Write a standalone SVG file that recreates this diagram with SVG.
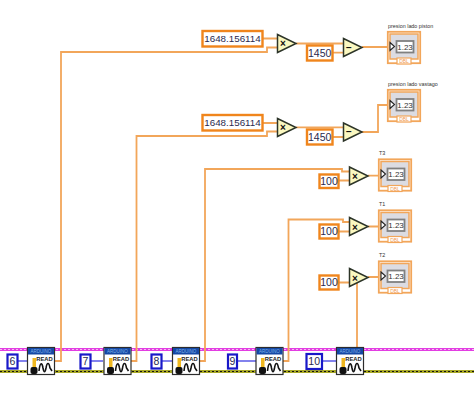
<svg xmlns="http://www.w3.org/2000/svg" width="474" height="407" viewBox="0 0 474 407">
<style>
text{font-family:"Liberation Sans",Arial,sans-serif}
.w{fill:none;stroke:#f2a65a;stroke-width:1.8}
.b{fill:none;stroke:#5a5ae8;stroke-width:1.6}
.c{fill:#fff;stroke:#f0851c;stroke-width:2.4}
.n{fill:#fff;stroke:#1818c8;stroke-width:2.2}
.ct{font-size:10.5px;fill:#2a2a50;text-anchor:middle}
.cl{font-size:9.8px;fill:#2a2a50;text-anchor:middle}
.tri{fill:#fbf8c0;stroke:#2c3428;stroke-width:1.5}
.op{font-size:10px;font-weight:bold;fill:#111;text-anchor:middle}
.lb{font-size:5.4px;fill:#333}
</style>
<defs>
<g id="ind">
<rect x="0.800" y="0.800" width="32.400" height="31.400" fill="#fff" stroke="#f2a65a" stroke-width="1.800"/>
<rect x="3" y="3" width="28" height="25" fill="#dcdce2" stroke="#f2a65a" stroke-width="1.500"/>
<rect x="9.500" y="10" width="17" height="11.500" fill="#fff" stroke="#808080" stroke-width="1.800"/>
<text x="18" y="18.800" font-size="8" fill="#333" text-anchor="middle">1.23</text>
<path d="M3 11.500 L7.500 15.500 L3 19.500 Z" fill="#fff" stroke="#222" stroke-width="1.100"/>
<rect x="10" y="27" width="14" height="6" fill="#fff" stroke="#f2a65a" stroke-width="1.200"/>
<text x="17" y="32.300" font-size="5" fill="#f09a50" text-anchor="middle">DBL</text>
</g>
<g id="rd">
<rect x="0.500" y="0.500" width="27" height="27" fill="#fff" stroke="#2c2c2c" stroke-width="1.200"/>
<rect x="1" y="1" width="26" height="6.500" fill="#1448a4"/>
<text x="14" y="6" font-size="4.500" fill="#7fb0e8" text-anchor="middle">ARDUINO</text>
<text x="17.500" y="14.300" font-size="5.800" font-weight="bold" fill="#222" text-anchor="middle">READ</text>
<rect x="5.500" y="11" width="3.500" height="10" fill="#f0b820"/>
<rect x="3.500" y="20" width="7" height="7" rx="2" fill="#111"/>
<path d="M12 24 C13 15 15 15 16 21 C17 26 18 26 19 21 C20 15 22 15 23 21 L25 24" fill="none" stroke="#111" stroke-width="1.600"/>
</g>
</defs>
<rect width="474" height="407" fill="#fff"/>
<g id="connectors">
<path d="M0 349.500H474" stroke="#e23ee2" stroke-width="3"/>
<path d="M0 349.500H474" stroke="#f9b8f4" stroke-width="1" stroke-dasharray="2 2"/>
<path d="M0 371.500H474" stroke="#a8a828" stroke-width="3"/>
<path d="M0 371.500H474" stroke="#111" stroke-width="1.200" stroke-dasharray="2 2"/>
<path class="b" d="M17 361H27M91 361H103M162 361H172M237 361H256M322 361H336"/>
<path class="w" d="M55 361H61V52H267V47.500H277M262 38.500H277M296 43.500H343M333 52.700H343M362 47H389"/>
<path class="w" d="M131 361H136.500V136H267V131.500H277M262 123H277M296 127.300H343M333 137H343M362 132H378V105H389"/>
<path class="w" d="M199 361H205V169H342V171.500H349M339 180.500H349M368 175.700H380"/>
<path class="w" d="M283 361H288.500V219.500H343V222H349M339 231.500H349M368 226.500H380"/>
<path class="w" d="M357 347V281M339 282.500H349M368 277H380"/>
</g>
<g id="const-a"><rect class="c" x="202.500" y="31" width="60" height="15.500"/><text class="cl" x="232.500" y="42.300">1648.156114</text></g>
<g id="const-b"><rect class="c" x="202.500" y="115" width="60" height="15.500"/><text class="cl" x="232.500" y="126.300">1648.156114</text></g>
<g id="mul-a"><path class="tri" d="M277.500 34.500V52.500L296 43.500Z"/><text class="op" x="283" y="47">×</text></g>
<g id="mul-b"><path class="tri" d="M277.500 118.500V136.500L296 127.500Z"/><text class="op" x="283" y="131">×</text></g>
<g id="k1450-a"><rect class="c" x="307" y="45.500" width="25.500" height="15"/><text class="ct" x="319.700" y="56.700">1450</text></g>
<g id="k1450-b"><rect class="c" x="307" y="129.500" width="25.500" height="15"/><text class="ct" x="319.700" y="140.700">1450</text></g>
<g id="sub-a"><path class="tri" d="M343.500 38.500V56.500L362 47.500Z"/><text class="op" x="349" y="50.500">−</text></g>
<g id="sub-b"><path class="tri" d="M343.500 123V141L362 132Z"/><text class="op" x="349" y="135">−</text></g>
<g id="ind-a"><text class="lb" x="388" y="28">presion lado piston</text><use href="#ind" x="387" y="31"/></g>
<g id="ind-b"><text class="lb" x="388" y="86">presion lado vastago</text><use href="#ind" x="387" y="89"/></g>
<g id="k100-a"><rect class="c" x="319.500" y="174.500" width="19" height="13.500"/><text class="ct" x="329" y="185">100</text></g>
<g id="k100-b"><rect class="c" x="319.500" y="224.500" width="19" height="14"/><text class="ct" x="329" y="235.300">100</text></g>
<g id="k100-c"><rect class="c" x="319.500" y="275.500" width="19" height="14"/><text class="ct" x="329" y="286.300">100</text></g>
<g id="mul-c"><path class="tri" d="M349.500 167V185L368 176Z"/><text class="op" x="355" y="180">×</text></g>
<g id="mul-d"><path class="tri" d="M349.500 217.500V235.500L368 226.500Z"/><text class="op" x="355" y="230.500">×</text></g>
<g id="mul-e"><path class="tri" d="M349.500 268.500V286.500L368 277.500Z"/><text class="op" x="355" y="281.500">×</text></g>
<g id="ind-c"><text class="lb" x="379" y="155">T3</text><use href="#ind" x="378" y="158.500"/></g>
<g id="ind-d"><text class="lb" x="379" y="206">T1</text><use href="#ind" x="378" y="209.500"/></g>
<g id="ind-e"><text class="lb" x="379" y="257">T2</text><use href="#ind" x="378" y="260.500"/></g>
<g id="n6"><rect class="n" x="7.500" y="354.500" width="10" height="14"/><text class="ct" x="12.500" y="365.300">6</text></g>
<g id="n7"><rect class="n" x="80.500" y="354.500" width="10" height="14"/><text class="ct" x="85.500" y="365.300">7</text></g>
<g id="n8"><rect class="n" x="151.500" y="354.500" width="10" height="14"/><text class="ct" x="156.500" y="365.300">8</text></g>
<g id="n9"><rect class="n" x="228" y="354.500" width="9" height="14"/><text class="ct" x="232.500" y="365.300">9</text></g>
<g id="n10"><rect class="n" x="306.500" y="354" width="15.500" height="15"/><text class="ct" x="314.200" y="365.300">10</text></g>
<g id="read-6"><use href="#rd" x="27" y="347"/></g>
<g id="read-7"><use href="#rd" x="103.500" y="347"/></g>
<g id="read-8"><use href="#rd" x="172" y="347"/></g>
<g id="read-9"><use href="#rd" x="255.500" y="347"/></g>
<g id="read-10"><use href="#rd" x="336" y="347"/></g>
</svg>
